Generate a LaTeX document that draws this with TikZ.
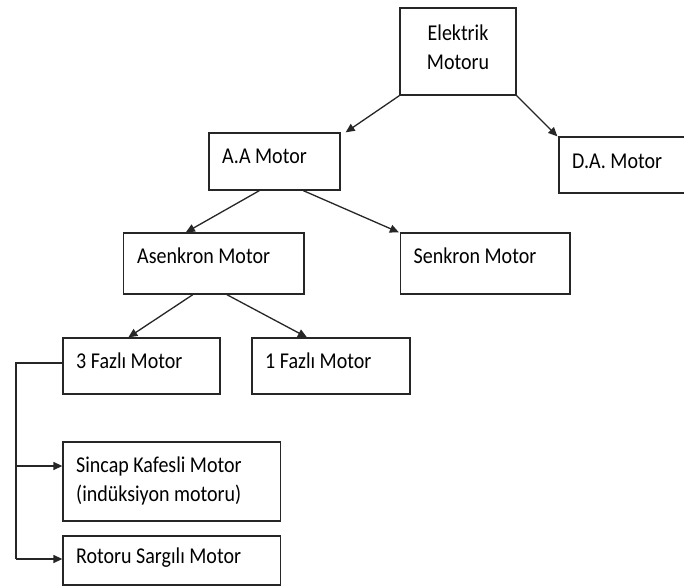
\documentclass[tikz,border=0pt]{standalone}
\usepackage{fontspec}
\setmainfont{Carlito}
\usetikzlibrary{arrows.meta,calc}
\newcommand\tallt[1]{\scalebox{1}[1.13]{#1}}
\begin{document}
\begin{tikzpicture}[x=1pt,y=-1pt,
  box/.style={draw=black!85,line width=1.3pt,rectangle,inner sep=0pt},
  txt/.style={inner sep=0pt,font=\fontsize{20}{29}\selectfont,text=black},
  arr/.style={draw=black!85,line width=1.3pt,-{Triangle[length=9pt,width=8pt]}},
  ln/.style={draw=black!85,line width=1.3pt}]
\useasboundingbox (0,0) rectangle (684,586);
\fill[white] (0,0) rectangle (684,586);
% boxes
\node[box,minimum width=116pt,minimum height=87pt] (el) at (458,51.5) {};
\node[box,minimum width=131pt,minimum height=57pt] (aa) at (274.5,161.5) {};
\node[box,minimum width=141pt,minimum height=56pt] (da) at (629.5,165) {};
\node[box,minimum width=180.5pt,minimum height=61pt] (as) at (213.75,263.5) {};
\node[box,minimum width=169.5pt,minimum height=61pt] (se) at (485.25,263.5) {};
\node[box,minimum width=157pt,minimum height=56pt] (f3) at (141.5,366) {};
\node[box,minimum width=158pt,minimum height=56pt] (f1) at (331,366) {};
\node[box,minimum width=217.5pt,minimum height=79pt] (si) at (171.75,481.5) {};
\node[box,minimum width=217.5pt,minimum height=49pt] (ro) at (171.75,560.5) {};
% texts
\node[txt,align=center] (elt) at (458,47) {\tallt{Elektrik}\\\tallt{Motoru}};
\node[txt,anchor=west] (aat) at (222,156) {\tallt{A.A Motor}};
\node[txt,anchor=west] (dat) at (572,161) {\tallt{D.A. Motor}};
\node[txt,anchor=west] (ast) at (137,256) {\tallt{Asenkron Motor}};
\node[txt,anchor=west] (set) at (413.5,256) {\tallt{Senkron Motor}};
\node[txt,anchor=west] (f3t) at (76,361) {\tallt{3 Fazlı Motor}};
\node[txt,anchor=west] (f1t) at (265,361) {\tallt{1 Fazlı Motor}};
\node[txt,anchor=west,align=left] (sit) at (76,480.5) {\tallt{Sincap Kafesli Motor}\\\tallt{(indüksiyon motoru)}};
\node[txt,anchor=west] (rot) at (76,558) {\tallt{Rotoru Sargılı Motor}};
% connectors
\draw[arr] (el.south west) -- ($(aa.north east)+(5,0)$);
\draw[arr] (el.south east) -- ($(da.north west)+(-1,0)$);
\draw[arr] ($(aa.south west)+(51,0)$) -- ($(as.north west)+(63,0)$);
\draw[arr] ($(aa.south west)+(95,0)$) -- ($(se.north west)+(-1,0)$);
\draw[arr] ($(as.south west)+(70,0)$) -- ($(f3.north west)+(66,0)$);
\draw[arr] ($(as.south west)+(104,0)$) -- ($(f1.north west)+(55.6,0)$);
\coordinate (bus) at (16,363);
\coordinate (j1) at (16,466);
\coordinate (j2) at (16,559);
\draw[ln] (f3.west |- bus) -- (bus) -- (j2);
\draw[arr] (j1) -- (j1 -| si.west);
\draw[arr] (j2) -- (j2 -| ro.west);
\end{tikzpicture}
\end{document}
